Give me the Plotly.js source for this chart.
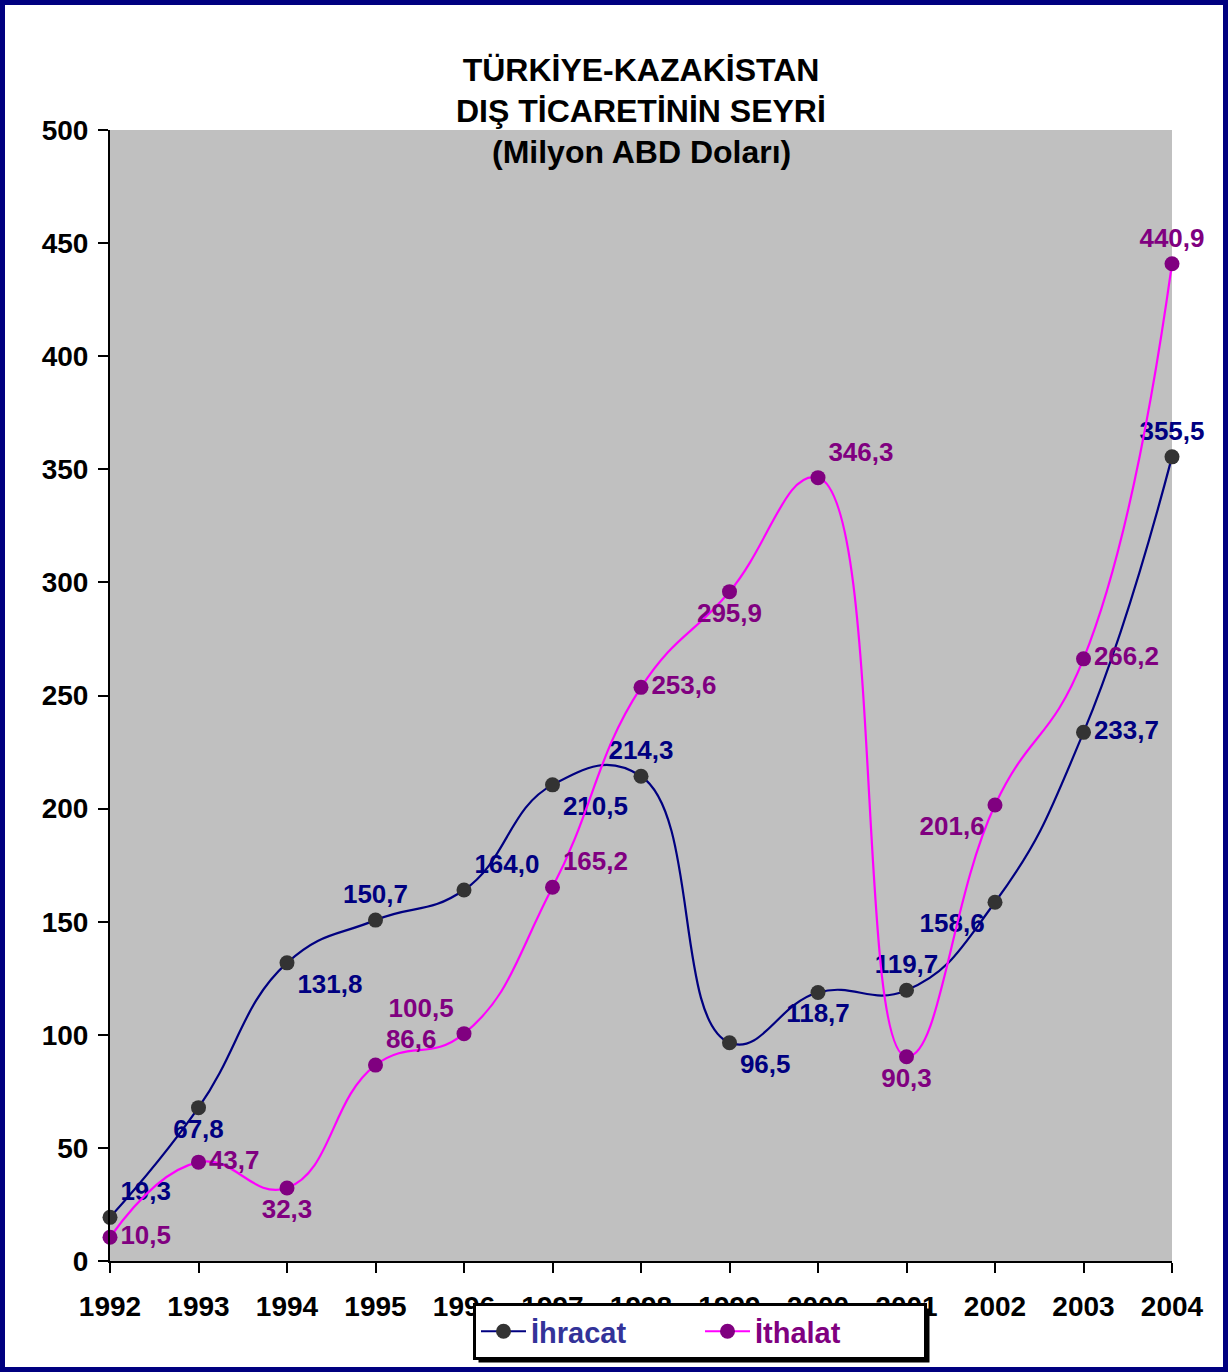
<!DOCTYPE html>
<html>
<head>
<meta charset="utf-8">
<script src="https://cdn.plot.ly/plotly-3.0.1.min.js"></script>
<style>
  html, body { margin: 0; padding: 0; background: #ffffff; }
  #wrap { position: relative; width: 1228px; height: 1372px; }
  #chart { width: 1228px; height: 1372px; }
  #frame { position: absolute; left: 0; top: 0; width: 1228px; height: 1372px; box-sizing: border-box; border: 5px solid #000080; pointer-events: none; }
</style>
</head>
<body>
<div id="wrap">
  <div id="chart"></div>
  <div id="frame"></div>
</div>
<script>
// ---- data ----
const years = ['1992','1993','1994','1995','1996','1997','1998','1999','2000','2001','2002','2003','2004'];
const ihracat = [19.3, 67.8, 131.8, 150.7, 164.0, 210.5, 214.3, 96.5, 118.7, 119.7, 158.6, 233.7, 355.5];
const ithalat = [10.5, 43.7, 32.3, 86.6, 100.5, 165.2, 253.6, 295.9, 346.3, 90.3, 201.6, 266.2, 440.9];
const seriesNames = ['İhracat', 'İthalat'];
const titleLines = ['TÜRKİYE-KAZAKİSTAN', 'DIŞ TİCARETİNİN SEYRİ', '(Milyon ABD Doları)'];
const yTicks = [0, 50, 100, 150, 200, 250, 300, 350, 400, 450, 500];

// label placement (styling)
const ihracatPos = ['top right','bottom center','bottom right','top center','top right','bottom right','top center','bottom right','bottom center','top center','bottom left','middle right','top center'];
const ithalatPos = ['middle right','middle right','bottom center','top right','top left','top right','middle right','bottom center','top right','bottom center','bottom left','middle right','top center'];

const fmt = v => v.toFixed(1).replace('.', ',');
const FONT = 'Arial, "Liberation Sans", sans-serif';

const traces = [
  {
    x: years, y: ihracat, name: '<span style="color:#333399">' + seriesNames[0] + '</span>',
    type: 'scatter', mode: 'lines+markers+text',
    line: { color: '#000080', width: 2.2, shape: 'spline', smoothing: 1.3 },
    marker: { color: '#333333', size: 15 },
    text: ihracat.map(fmt), textposition: ihracatPos,
    textfont: { family: FONT, size: 26, weight: 'bold', color: '#000080' },
    cliponaxis: false, hoverinfo: 'x+y'
  },
  {
    x: years, y: ithalat, name: '<span style="color:#800080">' + seriesNames[1] + '</span>',
    type: 'scatter', mode: 'lines+markers+text',
    line: { color: '#FF00FF', width: 2.2, shape: 'spline', smoothing: 1.3 },
    marker: { color: '#800080', size: 15 },
    text: ithalat.map(fmt), textposition: ithalatPos,
    textfont: { family: FONT, size: 26, weight: 'bold', color: '#800080' },
    cliponaxis: false, hoverinfo: 'x+y'
  }
];

const TITLE_FONT = { family: FONT, size: 32, weight: 'bold', color: '#000000' };

const layout = {
  width: 1228, height: 1372,
  margin: { l: 110, r: 56, t: 130, b: 108 },
  paper_bgcolor: '#ffffff',
  plot_bgcolor: '#C0C0C0',
  font: { family: FONT, size: 26, color: '#000000', weight: 'bold' },
  title: {
    text: titleLines[0],
    font: TITLE_FONT,
    x: 0.5, xref: 'paper', xanchor: 'center',
    y: 1 - 70 / 1372, yref: 'container', yanchor: 'middle'
  },
  annotations: [
    { text: titleLines[1], xref: 'paper', yref: 'paper', x: 0.5, y: (1264 - 111) / 1134, xanchor: 'center', yanchor: 'middle', showarrow: false, font: TITLE_FONT },
    { text: titleLines[2], xref: 'paper', yref: 'paper', x: 0.5, y: (1264 - 152) / 1134, xanchor: 'center', yanchor: 'middle', showarrow: false, font: TITLE_FONT }
  ],
  xaxis: {
    type: 'category', range: [0, 12],
    showline: true, linecolor: '#000000', linewidth: 2,
    ticks: 'outside', ticklen: 10, tickwidth: 2, tickcolor: '#000000',
    showgrid: false, zeroline: false,
    tickfont: { family: FONT, size: 28, weight: 'bold', color: '#000000' },
    ticklabelstandoff: 9
  },
  yaxis: {
    range: [0, 500], tickvals: yTicks,
    showline: true, linecolor: '#000000', linewidth: 2,
    ticks: 'outside', ticklen: 10, tickwidth: 2, tickcolor: '#000000',
    showgrid: false, zeroline: false,
    tickfont: { family: FONT, size: 28, weight: 'bold', color: '#000000' },
    ticklabelstandoff: 4
  },
  showlegend: true,
  legend: {
    orientation: 'h',
    x: (700 - 110) / 1062, xanchor: 'center',
    y: (1264 - 1306) / 1134, yanchor: 'top',
    bgcolor: '#ffffff', bordercolor: '#000000', borderwidth: 3,
    font: { family: FONT, size: 29, weight: 'bold' },
    itemwidth: 45,
    entrywidth: 164
  }
};

Plotly.newPlot('chart', traces, layout, { displayModeBar: false, staticPlot: true }).then(gd => {
  // drop shadow behind the legend box, placed from the rendered legend
  const bg = gd.querySelector('.legend .bg');
  if (!bg) return;
  const r = bg.getBoundingClientRect();
  const c = gd.getBoundingClientRect();
  const fs = gd._fullLayout._size;
  const toX = px => (px - c.left - fs.l) / fs.w;
  const toY = py => (fs.t + fs.h - (py - c.top)) / fs.h;
  const off = 4;
  return Plotly.relayout(gd, {
    shapes: [{
      type: 'rect', xref: 'paper', yref: 'paper', layer: 'above',
      x0: toX(r.left + off), x1: toX(r.right + off),
      y0: toY(r.top + off), y1: toY(r.bottom + off),
      fillcolor: '#000000', line: { width: 0 }
    }]
  });
});
</script>
</body>
</html>
